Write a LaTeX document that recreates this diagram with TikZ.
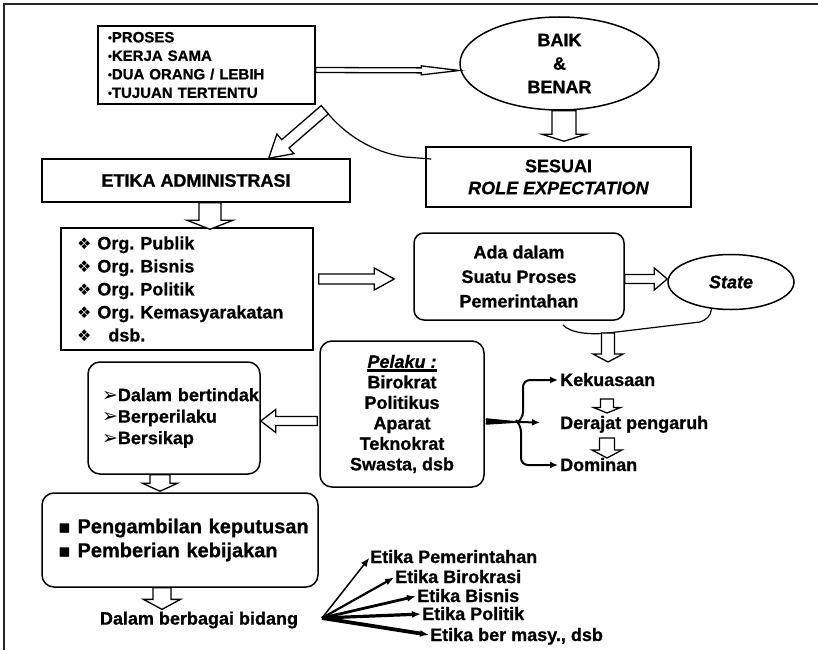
\documentclass[tikz,border=0pt]{standalone}
\usepackage{fontspec}
\setmainfont{Liberation Sans}[BoldFeatures={FakeBold=0.8},BoldItalicFeatures={FakeBold=0.8}]
\newfontfamily\dingfont{DejaVu Sans}
\usetikzlibrary{calc,shapes.geometric,arrows.meta}

% heavy underline for the "Pelaku" heading
\newcommand\heavyul[1]{\setbox0\hbox{#1}\rlap{\rule[-4.5pt]{\wd0}{3pt}}\box0}
% list markers
\newcommand\diamondbullet{{\dingfont\fontsize{16}{16}\selectfont ❖}}
\newcommand\arrowbullet{{\dingfont\fontsize{19}{19}\selectfont ➢}}
\newcommand\squarebullet{{\dingfont\fontsize{19}{19}\selectfont ▪}}
\newcommand\dotbullet{{\fontsize{11}{11}\selectfont\raisebox{1pt}{•}}}
\hyphenpenalty=10000
\exhyphenpenalty=10000
\frenchspacing

\begin{document}
\begin{tikzpicture}[x=1pt,y=-1pt,
  txt/.style={font=\fontsize{18}{22}\selectfont\bfseries},
  box/.style={draw, line width=1.5pt, inner sep=0pt},
  rbox/.style={box, rounded corners=12pt},
  oval/.style={ellipse, draw, line width=1.5pt, inner sep=0pt},
  lbl/.style={txt, inner sep=0pt, text height=12pt, text depth=0pt, anchor=west},
  blk/.style={draw, fill=white, line width=1.3pt, line join=miter},
  conn/.style={line width=2pt, -{Latex[length=8pt,width=7pt]}},
  fanarr/.style={-{Latex[length=9pt,width=7pt]}, shorten >=1pt},
  % hollow block arrow: shaft half width, head half width, head length
  hollow/.style n args={3}{to path={
    ($(\tikztostart)!#1!90:(\tikztotarget)$) --
    ($($(\tikztotarget)!#3!(\tikztostart)$)!#1!90:(\tikztotarget)$) --
    ($($(\tikztotarget)!#3!(\tikztostart)$)!#2!90:(\tikztotarget)$) --
    (\tikztotarget) --
    ($($(\tikztotarget)!#3!(\tikztostart)$)!#2!-90:(\tikztotarget)$) --
    ($($(\tikztotarget)!#3!(\tikztostart)$)!#1!-90:(\tikztotarget)$) --
    ($(\tikztostart)!#1!-90:(\tikztotarget)$) -- cycle}}
]
\useasboundingbox (0,0) rectangle (818,650);

% page frame
\draw[line width=1.8pt, black!85] (818,4) -- (4,4) -- (4,650);

% ---------- boxes and ovals ----------
\node[box, font=\fontsize{15}{18.5}\selectfont\bfseries, text width=197pt,
      inner xsep=10pt, minimum height=78pt, align=left] (b1) at (206.5,65)
  {\mbox{\dotbullet PROSES}\\ \mbox{\dotbullet KERJA SAMA}\\ \mbox{\dotbullet DUA ORANG / LEBIH}\\ \mbox{\dotbullet TUJUAN TERTENTU}};

\node[oval, font=\fontsize{18}{23.5}\selectfont\bfseries, minimum width=199pt,
      minimum height=93pt, align=center] (baik) at (559.5,63.5) {BAIK\\ \&\\ BENAR};

\node[box, txt, minimum width=308pt, minimum height=43pt] (etika) at (196,180.5) {ETIKA ADMINISTRASI};

\node[box, txt, minimum width=265pt, minimum height=60pt, align=center] (sesuai) at (558.5,177)
  {SESUAI\\ \textit{ROLE EXPECTATION}};

\node[box, font=\fontsize{18}{23}\selectfont\bfseries, text width=220pt, inner xsep=16pt,
      minimum height=122pt, align=left] (org) at (187,289)
  {\mbox{\diamondbullet\ Org. Publik}\\ \mbox{\diamondbullet\ Org. Bisnis}\\ \mbox{\diamondbullet\ Org. Politik}\\
   \mbox{\diamondbullet\ Org. Kemasyarakatan}\\ \mbox{\diamondbullet\hspace{17pt}dsb.}};

\node[rbox, rounded corners=10pt, font=\fontsize{18}{24.5}\selectfont\bfseries, minimum width=210pt,
      minimum height=87pt, align=center] (ada) at (519,276.5)
  {Ada dalam\\ Suatu Proses\\ Pemerintahan};

\node[oval, font=\fontsize{18}{22}\selectfont\bfseries\itshape, minimum width=126pt,
      minimum height=55pt] (state) at (731,282) {State};

\node[rbox, font=\fontsize{18}{20.5}\selectfont\bfseries, minimum width=164pt,
      minimum height=146pt, align=center] (pelaku) at (402,414)
  {\heavyul{\itshape Pelaku :}\\ Birokrat\\ Politikus\\ Aparat\\ Teknokrat\\ Swasta, dsb};

\node[rbox, font=\fontsize{18}{21.5}\selectfont\bfseries, text width=144pt, inner xsep=14pt,
      minimum height=112pt, align=left] (dalam) at (174,418)
  {\mbox{\arrowbullet Dalam bertindak}\\ \mbox{\arrowbullet Berperilaku}\\ \mbox{\arrowbullet Bersikap}\\[4pt]};

\node[rbox, font=\fontsize{20}{24}\selectfont\bfseries, text width=244pt, inner xsep=16pt,
      minimum height=94pt, align=left] (keputusan) at (180,540)
  {\mbox{\squarebullet\ Pengambilan keputusan}\\ \mbox{\squarebullet\ Pemberian kebijakan}};

\node[txt, inner sep=0pt] (bidang) at (199,620) {Dalam berbagai bidang};

% ---------- free-standing labels ----------
\node[lbl] (kek) at (560,380) {Kekuasaan};
\node[lbl] (der) at (560,423) {Derajat pengaruh};
\node[lbl] (dom) at (560,465) {Dominan};

\node[lbl] (e1) at (370,557) {Etika Pemerintahan};
\node[lbl] (e2) at (395,577) {Etika Birokrasi};
\node[lbl] (e3) at (417,596) {Etika Bisnis};
\node[lbl] (e4) at (422,614) {Etika Politik};
\node[lbl] (e5) at (430,635) {Etika ber masy., dsb};

% ---------- connector end points ----------
\coordinate (dstart) at ($(b1.south east)+(9,5)$);
\coordinate (dtip) at ($(etika.north west)!0.735!(etika.north east)$);
\coordinate (cend) at ($(sesuai.west)+(6,-18)$);
\coordinate (stem) at (608,333);
\coordinate (stemtip) at (608,362);
\coordinate (k1) at (607,399);
\coordinate (k2) at (607,413);
\coordinate (d1) at (607,438);
\coordinate (d2) at (607,458);
\coordinate (br) at (518,422);
\coordinate (fan) at (322,618);

% ---------- thin curved leaders ----------
\draw[line width=1.2pt] (dstart) .. controls (345,135) and (372,152) .. (405,157) -- (cend);
\draw[line width=1.2pt] (state.234) .. controls (711,316) and (706,320) .. (700,322)
  -- (stem) .. controls (590,335) and (570,333) .. (563,325);

% ---------- hollow block arrows ----------
\draw[blk] ($(b1.east)+(0,5)$) to[hollow={2.5pt}{4.5pt}{38pt}] ($(baik.west)+(0,7)$);
\draw[blk] (dstart) to[hollow={5.5pt}{13pt}{22pt}] (dtip);
\draw[blk] ($(baik.south)+(4.5,0)$) to[hollow={12pt}{22pt}{7pt}] ($(sesuai.north)+(5.5,-5)$);
\draw[blk] ($(etika.south)+(14,0)$) to[hollow={11pt}{23pt}{9pt}] ($(org.north)+(23,2)$);
\draw[blk] ($(org.east)+(5,-10)$) to[hollow={5pt}{11pt}{20pt}] ($(ada.west)+(-19,2.5)$);
\draw[blk] ($(ada.east)+(0,2.5)$) to[hollow={4.5pt}{11pt}{13pt}] ($(state.west)+(0,-3)$);
\draw[blk] (stem) to[hollow={6.5pt}{15pt}{8pt}] (stemtip);
\draw[blk] (k1) to[hollow={6.5pt}{13.5pt}{5.5pt}] (k2);
\draw[blk] (d1) to[hollow={7.5pt}{15pt}{8pt}] (d2);
\draw[blk] ($(pelaku.west)+(-2,7)$) to[hollow={4.5pt}{11.5pt}{15pt}] ($(dalam.east)+(0,3)$);
\draw[blk] ($(dalam.south)+(-14,0)$) to[hollow={10pt}{17.5pt}{8pt}] ($(keputusan.north)+(-20,-1)$);
\draw[blk] ($(keputusan.south)+(-18,0)$) to[hollow={9pt}{18.5pt}{10pt}] ($(bidang.north)+(-37,-2)$);

% ---------- branching arrows from the actors box ----------
\fill ($(pelaku.east)+(1,4.5)$) -- (br) -- ($(pelaku.east)+(1,10)$) -- cycle;
\draw[line width=1.5pt] ($(pelaku.east)+(1,5)$) -- (br);
\draw[line width=1.5pt] ($(pelaku.east)+(1,10)$) -- (br);
\draw[conn, rounded corners=7pt, shorten >=2pt] (br) -- ++(5,-3) |- (kek.west);
\draw[conn, shorten >=20pt] (br) -- (der.west);
\draw[conn, rounded corners=7pt, shorten >=2pt] (br) -- ++(3,3) |- (dom.west);

% ---------- fan of ethics fields ----------
\draw[fanarr, line width=1.5pt] (fan) -- (e1.west);
\draw[fanarr, line width=2.2pt] (fan) -- (e2.west);
\draw[fanarr, line width=2.8pt] (fan) -- (e3.west);
\draw[fanarr, line width=3.2pt] (fan) -- (e4.west);
\draw[fanarr, line width=3.8pt] (fan) -- (e5.west);
\end{tikzpicture}
\end{document}
